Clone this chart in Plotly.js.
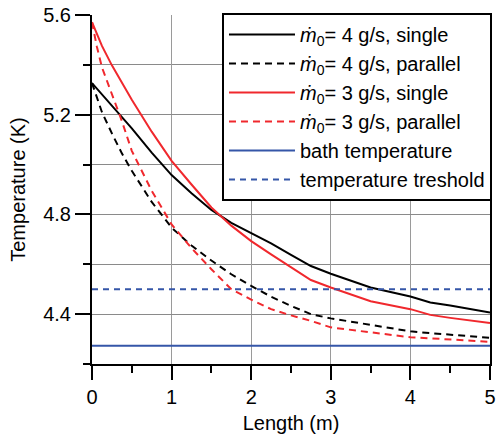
<!DOCTYPE html>
<html>
<head>
<meta charset="utf-8">
<script src="https://cdn.plot.ly/plotly-3.0.1.min.js"></script>
<style>html,body{margin:0;padding:0;background:#fff;}#chart{width:497px;height:434px;}</style>
</head>
<body>
<div id="chart"></div>
<script>
// Length along the line (m)
var lengthM = [0, 0.06, 0.125, 0.25, 0.375, 0.5, 0.75, 1, 1.25, 1.5, 1.75, 2, 2.25, 2.5, 2.75, 3, 3.5, 4, 4.25, 4.5, 5];
// Temperature (K)
var t4Single   = [5.327, 5.305, 5.282, 5.236, 5.190, 5.145, 5.048, 4.958, 4.885, 4.818, 4.766, 4.726, 4.684, 4.638, 4.593, 4.562, 4.507, 4.471, 4.447, 4.435, 4.407];
var t4Parallel = [5.327, 5.270, 5.210, 5.125, 5.045, 4.975, 4.850, 4.747, 4.675, 4.615, 4.560, 4.513, 4.470, 4.433, 4.400, 4.383, 4.356, 4.331, 4.324, 4.318, 4.305];
var t3Single   = [5.571, 5.522, 5.476, 5.398, 5.327, 5.260, 5.132, 5.015, 4.920, 4.828, 4.755, 4.693, 4.640, 4.590, 4.537, 4.507, 4.452, 4.420, 4.397, 4.385, 4.364];
var t3Parallel = [5.571, 5.475, 5.390, 5.280, 5.175, 5.055, 4.895, 4.760, 4.665, 4.580, 4.500, 4.458, 4.420, 4.395, 4.373, 4.347, 4.327, 4.307, 4.303, 4.299, 4.289];
var lineX = [0, 5];
var bathT = [4.273, 4.273];
var thresholdT = [4.5, 4.5];
var seriesNames = [
  '<i>ṁ</i><sub>0</sub>= 4 g/s, single',
  '<i>ṁ</i><sub>0</sub>= 4 g/s, parallel',
  '<i>ṁ</i><sub>0</sub>= 3 g/s, single',
  '<i>ṁ</i><sub>0</sub>= 3 g/s, parallel',
  'bath temperature',
  'temperature treshold'
];

var black = '#000000', red = '#f0282d', blue = '#3556a8';
var traces = [
  {x: lengthM, y: t4Single, name: seriesNames[0], line: {color: black, width: 2}},
  {x: lengthM, y: t4Parallel, name: seriesNames[1], line: {color: black, width: 2, dash: '7px,5px'}},
  {x: lengthM, y: t3Single, name: seriesNames[2], line: {color: red, width: 2}},
  {x: lengthM, y: t3Parallel, name: seriesNames[3], line: {color: red, width: 2, dash: '7px,5px'}},
  {x: lineX, y: bathT, name: seriesNames[4], line: {color: blue, width: 2}},
  {x: lineX, y: thresholdT, name: seriesNames[5], line: {color: blue, width: 2, dash: '6px,5px'}}
];
traces.forEach(function (t, i) { t.type = 'scatter'; t.mode = 'lines'; t.legendgroup = 'g' + i; });

var font = {family: 'Liberation Sans, Arial, sans-serif', size: 20, color: '#000'};
var layout = {
  width: 497, height: 434,
  margin: {l: 92, r: 5, t: 15, b: 70, pad: 0},
  paper_bgcolor: '#fff', plot_bgcolor: '#fff',
  font: font,
  showlegend: true,
  legend: {
    x: 1.005, xanchor: 'right', y: 1.006, yanchor: 'top',
    bgcolor: '#fff', bordercolor: '#000', borderwidth: 2,
    font: font, tracegroupgap: 0, itemwidth: 66, traceorder: 'grouped'
  },
  xaxis: {
    range: [0, 5], tick0: 0, dtick: 1, ticks: 'outside', ticklen: 14, tickwidth: 2, tickcolor: '#000',
    showline: true, linecolor: '#000', linewidth: 2, mirror: false,
    showgrid: true, gridcolor: '#9a9a9a', gridwidth: 1, zeroline: false,
    minor: {dtick: 0.5, ticks: 'outside', ticklen: 7, tickwidth: 2, tickcolor: '#000', showgrid: false},
    title: {text: 'Length (m)', font: font, standoff: 11},
    tickfont: font
  },
  yaxis: {
    range: [4.2, 5.6], tick0: 4.4, dtick: 0.4, tickformat: '.1f',
    ticks: 'outside', ticklen: 15, tickwidth: 2, tickcolor: '#000',
    showline: true, linecolor: '#000', linewidth: 2, mirror: true,
    showgrid: true, gridcolor: '#8a8a8a', gridwidth: 1, zeroline: false,
    minor: {dtick: 0.2, ticks: 'outside', ticklen: 7, tickwidth: 2, tickcolor: '#000', showgrid: true, gridcolor: '#8a8a8a', gridwidth: 1},
    title: {text: 'Temperature (K)', font: font, standoff: 12},
    tickfont: font
  }
};
Plotly.newPlot('chart', traces, layout, {displayModeBar: false, staticPlot: true});
</script>
</body>
</html>
